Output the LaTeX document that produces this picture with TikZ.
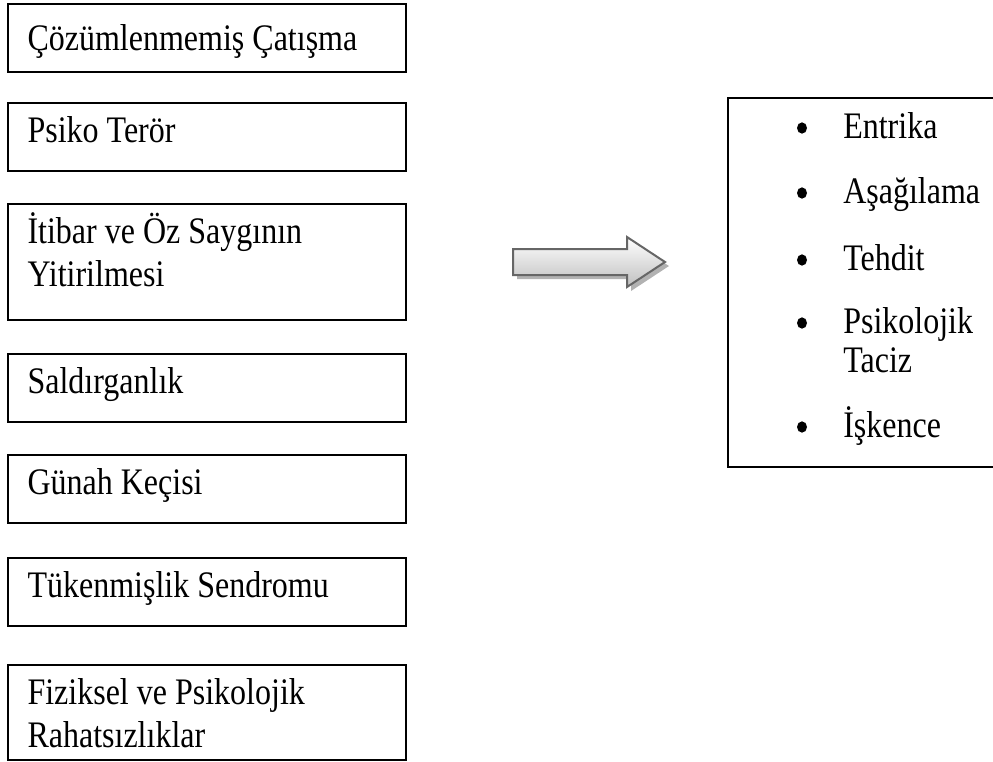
\documentclass[tikz,border=0pt]{standalone}
\usepackage{fontspec}
\usepackage{graphicx}
\setmainfont{Liberation Serif}
\usetikzlibrary{positioning,shapes.geometric}

% the reference is stretched a little in height
\newcommand{\tallline}[1]{\scalebox{1}[1.17]{#1}}

\begin{document}
\begin{tikzpicture}[x=0.75pt, y=-0.75pt,
  causebox/.style = {draw, line width=1.1pt, minimum width=298.5pt, minimum height=51pt, inner sep=0pt},
  tallbox/.style = {causebox, minimum height=87pt},
  boxtext/.style = {anchor=base west, inner sep=0pt, font=\fontsize{24}{32.25}\selectfont, align=left},
  itemtext/.style = {anchor=base west, inner sep=0pt, font=\fontsize{24}{29.25}\selectfont, align=left},
  bulletdot/.style = {ellipse, fill, inner sep=0pt, minimum width=7.5pt, minimum height=8.5pt}]
  \useasboundingbox (0,0) rectangle (993,761);
  % left column
  \node[causebox] (b1) at (207,38) {};
  \node[causebox] (b2) at (207,137) {};
  \node[tallbox] (b3) at (207,262) {};
  \node[causebox] (b4) at (207,388) {};
  \node[causebox] (b5) at (207,489) {};
  \node[causebox] (b6) at (207,592) {};
  \node[causebox, minimum height=71.25pt] (b7) at (207,712.5) {};
  % two-line texts sit on their last line
  \node[boxtext] (t1) at ([shift={(20,47)}]b1.north west) {\tallline{Çözümlenmemiş Çatışma}};
  \node[boxtext] (t2) at ([shift={(20,40)}]b2.north west) {\tallline{Psiko Terör}};
  \node[boxtext] (t3) at ([shift={(20,83)}]b3.north west) {\tallline{İtibar ve Öz Saygının}\\\tallline{Yitirilmesi}};
  \node[boxtext] (t4) at ([shift={(20,40)}]b4.north west) {\tallline{Saldırganlık}};
  \node[boxtext] (t5) at ([shift={(20,40)}]b5.north west) {\tallline{Günah Keçisi}};
  \node[boxtext] (t6) at ([shift={(20,40)}]b6.north west) {\tallline{Tükenmişlik Sendromu}};
  \node[boxtext] (t7) at ([shift={(20,83)}]b7.north west) {\tallline{Fiziksel ve Psikolojik}\\\tallline{Rahatsızlıklar}};
  % block arrow
  \fill[black!30] (517,253) -- (631,253) -- (631,241) -- (669,266) -- (631,291) -- (631,279) -- (517,279) -- cycle;
  \shade[top color=white, bottom color=black!25, draw=black!60, line width=1.5pt]
    (513,249) -- (627,249) -- (627,237) -- (665,262) -- (627,287) -- (627,275) -- (513,275) -- cycle;
  % right list
  \node[draw, line width=1.1pt, minimum width=204pt, minimum height=276.75pt, inner sep=0pt] (list) at (864,282.5) {};
  \node[bulletdot] (d1) at (802,128) {};
  \node[bulletdot] (d2) at (802,193) {};
  \node[bulletdot] (d3) at (802,260) {};
  \node[bulletdot] (d4) at (802,323) {};
  \node[bulletdot] (d5) at (802,427) {};
  \node[itemtext] (i1) at (843,138) {\tallline{Entrika}};
  \node[itemtext] (i2) at (843,203) {\tallline{Aşağılama}};
  \node[itemtext] (i3) at (843,270) {\tallline{Tehdit}};
  \node[itemtext] (i4) at (843,372) {\tallline{Psikolojik}\\\tallline{Taciz}};
  \node[itemtext] (i5) at (843,437) {\tallline{İşkence}};
\end{tikzpicture}
\end{document}
